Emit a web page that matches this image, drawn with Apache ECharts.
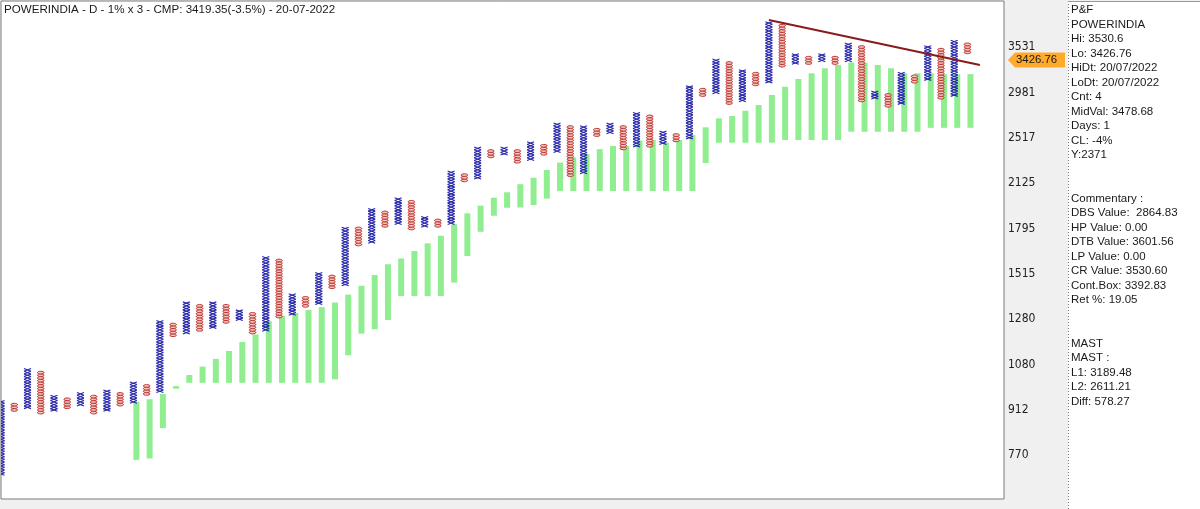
<!DOCTYPE html>
<html><head><meta charset="utf-8">
<script src="https://cdn.jsdelivr.net/npm/echarts@6/dist/echarts.min.js"></script>
<style>html,body{margin:0;padding:0;background:#f0f0f0;overflow:hidden}#c{width:1200px;height:509px}</style>
</head><body><div id="c"></div>
<script>
// ---- data ----
const BASE = 770;            // lowest labelled box
const BOX = 0.01;            // 1% box
const tickLabels = ['770','912','1080','1280','1515','1795','2125','2517','2981','3531'];
const titleText = 'POWERINDIA - D - 1% x 3 - CMP: 3419.35(-3.5%) - 20-07-2022';
// column types, X = rising, O = falling
const colType = 'XOXOXOXOXOXOXOXOXOXOXOXOXOXOXOXOXOXOXOXOXOXOXOXOXOXOXOXOXOXOXOXOXOXOXOXOXO';
const colLow  = [718,912,921,903,912,921,930,903,912,930,940,968,978,1205,1217,1229,1241,1266,1279,1217,
                 1229,1292,1305,1344,1358,1441,1456,1690,1707,1812,1830,1794,1812,1812,1830,2146,2167,2347,2370,2301,
                 2324,2370,2394,2189,2211,2541,2567,2418,2442,2442,2467,2491,2516,2950,2980,2864,2892,3070,3101,3292,
                 3325,3325,3358,3325,3358,2892,2921,2835,2864,3101,3132,2921,2950,3460];
const colHigh = [940,930,1059,1048,958,949,968,958,978,968,1007,997,1266,1254,1358,1344,1358,1344,1318,1305,
                 1608,1592,1399,1385,1515,1500,1794,1794,1923,1904,2001,1982,1867,1848,2211,2189,2418,2394,2418,2394,
                 2467,2442,2644,2618,2618,2592,2644,2618,2752,2725,2567,2541,3040,3010,3358,3325,3227,3195,3860,3821,
                 3425,3391,3425,3391,3564,3529,2980,2950,3195,3163,3529,3494,3600,3564];
// MAST band (green bars), null where absent
const mastHigh = [null,null,null,null,null,null,null,null,null,null,
  940,949,968,997,1039,1072,1103,1136,1175,1208,1270,1296,1309,1324,1338,1361,1402,1449,1508,1570,
  1604,1649,1697,1746,1822,1898,1953,2012,2053,2116,2168,2231,2294,2339,2368,2411,2440,2440,2490,2495,
  2470,2495,2542,2616,2705,2729,2783,2843,2951,3043,3132,3200,3260,3300,3331,3331,3300,3260,3200,3200,
  3200,3189,3189,3189.48];
const mastLow = [null,null,null,null,null,null,null,null,null,null,
  757,761,852,987,1009,1009,1009,1009,1009,1009,1009,1009,1009,1009,1009,1022,1118,1212,1232,1275,
  1394,1394,1394,1394,1466,1619,1772,1881,1938,1940,1958,2005,2063,2063,2063,2063,2063,2063,2063,2063,
  2063,2063,2063,2290,2470,2470,2470,2470,2470,2495,2495,2495,2495,2495,2573,2573,2573,2573,2573,2573,
  2611,2611,2611,2611.21];
const trendCol = [58, 73.94];
const trendPrice = [3902, 3300];
const lastPrice = 3426.76;
const infoLines = ['P&F','POWERINDIA','Hi: 3530.6','Lo: 3426.76','HiDt: 20/07/2022','LoDt: 20/07/2022','Cnt: 4',
  'MidVal: 3478.68','Days: 1','CL: -4%','Y:2371','','','Commentary :','DBS Value:  2864.83','HP Value: 0.00',
  'DTB Value: 3601.56','LP Value: 0.00','CR Value: 3530.60','Cont.Box: 3392.83','Ret %: 19.05','','',
  'MAST','MAST :','L1: 3189.48','L2: 2611.21','Diff: 578.27'];

// ---- build ----
function boxOf(p){ return Math.log(p / BASE) / Math.log(1 + BOX); }
const pfData = colType.split('').map((t, i) => [i, Math.round(boxOf(colLow[i])), Math.round(boxOf(colHigh[i])), t === 'X' ? 0 : 1]);
const mastData = [];
mastHigh.forEach((h, i) => { if (h != null) mastData.push([i, boxOf(mastLow[i]), boxOf(h)]); });
const tickBoxes = tickLabels.map(t => Math.round(boxOf(+t)));

const FONT = 'Liberation Sans, Arial, sans-serif';
const NARROW = '"Liberation Sans Narrow", "Arial Narrow", "DejaVu Sans Condensed", "Liberation Sans", sans-serif';
const chart = echarts.init(document.getElementById('c'), null, {renderer: 'canvas'});
chart.setOption({
  animation: false,
  backgroundColor: '#f0f0f0',
  title: {text: titleText, left: 4, top: 4, padding: 0,
          textStyle: {fontSize: 11.6, fontWeight: 'normal', color: '#1a1a1a', fontFamily: FONT}},
  grid: {left: 1, top: 1, width: 1003, height: 498, show: true, backgroundColor: '#ffffff',
         borderColor: '#7a7a7a', borderWidth: 1},
  xAxis: {type: 'value', min: 0, max: 75.76, show: false},
  yAxis: {type: 'value', position: 'right', min: -16.37, max: 170.24,
          splitLine: {show: false}, axisLine: {show: false}, axisTick: {show: false},
          axisLabel: {customValues: tickBoxes, margin: 4, color: '#222', fontSize: 12, fontFamily: NARROW,
                      formatter: v => { const j = tickBoxes.indexOf(Math.round(v)); return j >= 0 ? tickLabels[j] : ''; }}},
  series: [
    {type: 'custom', clip: true, z: 1, data: mastData, encode: {x: 0, y: [1, 2]},
     renderItem: (params, api) => {
       const a = api.coord([api.value(0), api.value(2)]);
       const b = api.coord([api.value(0), api.value(1)]);
       return {type: 'rect', shape: {x: a[0], y: a[1], width: 6, height: Math.max(b[1] - a[1], 1)},
               style: {fill: '#90ee90'}};
     }},
    {type: 'custom', clip: true, z: 2, data: pfData, encode: {x: 0, y: [1, 2]},
     renderItem: (params, api) => {
       const i = api.value(0), lo = api.value(1), hi = api.value(2), t = api.value(3);
       const h = Math.abs(api.size([0, 1])[1]);
       const ch = [];
       for (let k = lo; k <= hi; k++) {
         const p = api.coord([i, k]);
         if (t === 0) {
           ch.push({type: 'line', shape: {x1: p[0] - 3.5, y1: p[1] - h / 2, x2: p[0] + 3.5, y2: p[1] + h / 2},
                    style: {stroke: '#2626aa', lineWidth: 1.1}});
           ch.push({type: 'line', shape: {x1: p[0] + 3.5, y1: p[1] - h / 2, x2: p[0] - 3.5, y2: p[1] + h / 2},
                    style: {stroke: '#2626aa', lineWidth: 1.1}});
         } else {
           ch.push({type: 'ellipse', shape: {cx: p[0], cy: p[1], rx: 3.3, ry: h / 2},
                    style: {stroke: '#bf3030', fill: '#f2cbbf', lineWidth: 1}});
         }
       }
       return {type: 'group', children: ch};
     }},
    {type: 'line', z: 3, symbol: 'none', silent: true,
     data: trendCol.map((c, j) => [c, boxOf(trendPrice[j])]),
     lineStyle: {color: '#8b1a1a', width: 2}}
  ]
});

// price tag: value position from the axis, tag box hangs just below it as in the original
const my = chart.convertToPixel({yAxisIndex: 0}, boxOf(lastPrice)) + 5;
chart.setOption({
  graphic: [
    {type: 'rect', silent: true, shape: {x: 1068, y: 1, width: 132, height: 508}, style: {fill: '#ffffff'}},
    {type: 'line', silent: true, shape: {x1: 1068.5, y1: 1, x2: 1068.5, y2: 509},
     style: {stroke: '#777', lineWidth: 1, lineDash: [1, 2]}},
    {type: 'line', silent: true, shape: {x1: 1068, y1: 1.5, x2: 1200, y2: 1.5},
     style: {stroke: '#999', lineWidth: 1}},
    {type: 'text', silent: true, style: {x: 1071, y: 3, text: infoLines.join('\n'), fill: '#1a1a1a',
     font: '11.5px ' + FONT, lineHeight: 14.5, verticalAlign: 'top'}},
    {type: 'polygon', silent: true, shape: {points: [[1008, my], [1015, my - 7.5], [1065, my - 7.5], [1065, my + 7.5], [1015, my + 7.5]]},
     style: {fill: '#ffaa2a'}},
    {type: 'text', silent: true, style: {x: 1016, y: my, text: lastPrice.toFixed(2), fill: '#1a1a1a',
     font: '11.4px ' + FONT, verticalAlign: 'middle'}}
  ]
});
</script></body></html>
